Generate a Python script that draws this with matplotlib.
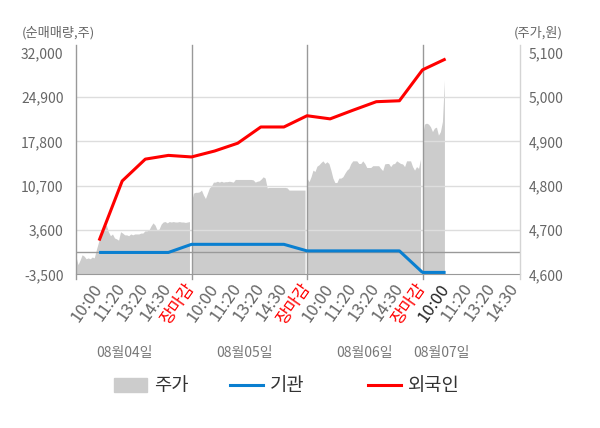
import numpy as np
import matplotlib
matplotlib.use('Agg')
import matplotlib.pyplot as plt
from matplotlib.lines import Line2D
from matplotlib.patches import Patch

plt.rcParams['font.family'] = ['Noto Sans CJK KR', 'DejaVu Sans']

tick_labels = ['10:00', '11:20', '13:20', '14:30', '장마감'] * 3 + ['10:00', '11:20', '13:20', '14:30']
dates = ['08월04일', '08월05일', '08월06일', '08월07일']
date_pos = [2.1, 7.3, 12.5, 15.8]

# cumulative net buying (shares), one point per label from 08/04 10:00 to 08/07 10:00
foreign = [1900, 11450, 14950, 15550, 15300, 16250, 17500, 20100, 20100,
           21900, 21400, 22800, 24150, 24300, 29250, 31000]
institution = [0, 0, 0, 0, 1300, 1300, 1300, 1300, 1300,
               250, 250, 250, 250, 250, -3200, -3200]

# intraday price (won)
price_0804 = [4640, 4622, 4632, 4644, 4641, 4635, 4637, 4635, 4639, 4637,
              4655, 4671, 4689, 4704, 4709, 4711, 4696, 4687, 4691, 4682,
              4680, 4677, 4696, 4693, 4689, 4689, 4687, 4691, 4689, 4691,
              4691, 4691, 4693, 4693, 4698, 4698, 4700, 4709, 4716, 4711,
              4700, 4702, 4713, 4718, 4719, 4716, 4719, 4718, 4719, 4718,
              4718, 4719, 4718, 4718, 4717, 4718, 4719]
price_0805 = [4763, 4783, 4785, 4785, 4786, 4790, 4779, 4771, 4783, 4795,
              4799, 4808, 4808, 4810, 4808, 4810, 4808, 4809, 4809, 4810,
              4809, 4808, 4814, 4814, 4814, 4814, 4814, 4814, 4814, 4814,
              4814, 4813, 4808, 4810, 4811, 4815, 4820, 4817, 4795, 4796,
              4796, 4796, 4796, 4796, 4796, 4796, 4796, 4796, 4795, 4790,
              4790, 4790, 4790, 4790, 4790, 4790, 4790, 4790]
price_0806 = [4817, 4809, 4820, 4835, 4832, 4844, 4847, 4852, 4856, 4850,
              4854, 4850, 4835, 4817, 4807, 4807, 4817, 4817, 4820, 4828,
              4835, 4839, 4850, 4856, 4856, 4856, 4850, 4850, 4856, 4850,
              4841, 4841, 4841, 4845, 4845, 4845, 4845, 4839, 4834, 4849,
              4850, 4850, 4843, 4849, 4850, 4856, 4853, 4850, 4849, 4843,
              4856, 4856, 4856, 4843, 4835, 4843, 4839, 4860]
price_0807 = [4914, 4939, 4941, 4939, 4933, 4922, 4930, 4932, 4914, 4922,
              4945, 5038]

fig = plt.figure(figsize=(6, 4.28), dpi=100)
ax = fig.add_axes([76 / 600, 1 - 274.3 / 428, 444 / 600, 221.6 / 428])
ax2 = ax.twinx()
ax.set_zorder(ax2.get_zorder() + 1)
ax.patch.set_visible(False)
ax2.set_facecolor('#f5f5f5')

xmax = 19.22
ax.set_xlim(0, xmax)
ax.set_ylim(-3500, 32000)
ax2.set_ylim(4600, 5100)

# price area, each day spans 5 label slots
step = 5 / 58
for d, p in enumerate([price_0804, price_0805, price_0806, price_0807]):
    if d == 0:
        x = np.linspace(0, 5, len(p), endpoint=False)
    else:
        x = 5 * d + np.arange(len(p)) * step
    ax2.fill_between(x, p, 4600, color='#cccccc', lw=0)

slots = np.arange(1, len(foreign) + 1)
ax.plot(slots, institution, color='#0a7fd0', lw=2.2, solid_capstyle='butt', zorder=4)
ax.plot(slots, foreign, color='#ff0000', lw=2.2, solid_capstyle='butt', zorder=5)

# grid and reference lines
yt = np.arange(-3500, 32001, 7100)
for v in yt[1:-1]:
    ax.axhline(v, color='#dddddd', lw=1, zorder=1)
ax.axhline(0, color='#999999', lw=1, zorder=2)
xt = ax.get_xaxis_transform()
for b in [0, 5, 10, 15]:
    ax.plot([b, b], [-0.02, 1.035], transform=xt, color='#999999', lw=1, clip_on=False, zorder=3)
ax.plot([xmax, xmax], [-0.02, 1.035], transform=xt, color='#d4d4d4', lw=1, clip_on=False, zorder=3)

for a in (ax, ax2):
    for s in a.spines.values():
        s.set_visible(False)
ax.spines['bottom'].set_visible(True)
ax.spines['bottom'].set_color('#999999')

ax.set_yticks(yt)
ax.set_yticklabels([f'{v:,}' for v in yt])
ax.tick_params(axis='y', length=0, pad=9, labelsize=10, labelcolor='#666666')
pt = np.arange(4600, 5101, 100)
ax2.set_yticks(pt)
ax2.set_yticklabels([f'{v:,}' for v in pt])
ax2.tick_params(axis='y', length=0, pad=6, labelsize=10, labelcolor='#666666')

ax.set_xticks(np.arange(1, len(tick_labels) + 1))
ax.set_xticklabels(tick_labels)
ax.tick_params(axis='x', length=0, pad=8, labelsize=12)
for i, lab in enumerate(ax.get_xticklabels()):
    lab.set_rotation(55)
    lab.set_ha('right')
    lab.set_va('center')
    lab.set_rotation_mode('anchor')
    if tick_labels[i] == '장마감':
        lab.set_color('#ff0000')
    elif i == 15:
        lab.set_color('#222222')
    else:
        lab.set_color('#666666')

for pos, d in zip(date_pos, dates):
    ax.text(pos, -0.355, d, transform=xt, ha='center', va='center', fontsize=10, color='#777777')

fig.text(22 / 600, 1 - 33 / 428, '(순매매량,주)', ha='left', va='center', fontsize=9.5, color='#666666')
fig.text(563 / 600, 1 - 33 / 428, '(주가,원)', ha='right', va='center', fontsize=9.5, color='#666666')

# legend
items = [(Patch(color='#cccccc'), '주가', 114),
         (Line2D([], [], color='#0a7fd0', lw=2.2), '기관', 230),
         (Line2D([], [], color='#ff0000', lw=2.2), '외국인', 368)]
for h, t, xl in items:
    fig.legend([h], [t], loc='center left', bbox_to_anchor=(xl / 600, 1 - 386 / 428),
               frameon=False, fontsize=13.5, handlelength=1.75, handleheight=0.8,
               handletextpad=0.4, borderpad=0, borderaxespad=0, labelcolor='#333333')

fig.savefig('out.png', dpi=100)
